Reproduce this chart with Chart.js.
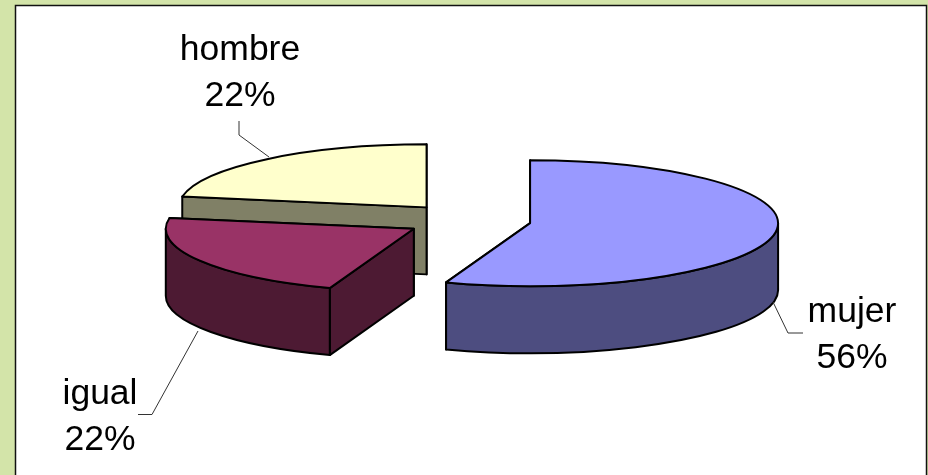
<!DOCTYPE html>
<html>
<head>
<meta charset="utf-8">
<style>html,body{margin:0;padding:0;background:#D3E4A9}canvas{display:block}</style>
<script src="https://cdn.jsdelivr.net/npm/chart.js@4/dist/chart.umd.min.js"></script>
</head>
<body>
<canvas id="c" width="928" height="475"></canvas>
<script>
const categories = ['mujer', 'igual', 'hombre'];
const percentages = [55.5, 22.25, 22.25];
const percentLabels = ['56%', '22%', '22%'];
const topColors = ['#9999FF', '#993366', '#FFFFCC'];
const wallColors = ['#4D4D80', '#4D1A33', '#808066'];
const explode = [61, 65, 67.5];

const RX = 248, RY = 63, DEPTH = 67;
const labelPlacement = [
  {x: 852, y: 322, leader: [[773, 302], [788, 333], [803, 333]]},
  {x: 100, y: 404, leader: [[198, 331], [152, 414.5], [138, 414.5]]},
  {x: 240, y: 60,  leader: [[239, 121], [239, 135], [269, 157]]}
];

const pie3d = {
  id: 'pie3d',
  beforeDraw(chart) {
    const {ctx, width, height} = chart;
    ctx.save();
    ctx.fillStyle = '#D3E4A9';
    ctx.fillRect(0, 0, width, height);
    ctx.fillStyle = '#FFFFFF';
    ctx.strokeStyle = '#111111';
    ctx.lineWidth = 1.5;
    ctx.fillRect(15.5, 5.5, 911, height + 10);
    ctx.strokeRect(15.5, 5.5, 911, height + 10);
    ctx.restore();
  },
  beforeDatasetDraw(chart, args) {
    const {ctx} = chart;
    const arcs = chart.getDatasetMeta(args.index).data.map((el, i) => {
      const mid = (el.startAngle + el.endAngle) / 2;
      const off = el.options.offset;
      return {
        i, a0: el.startAngle, a1: el.endAngle,
        cx: el.x + Math.cos(mid) * off,
        cy: el.y + Math.sin(mid) * off * RY / RX
      };
    });
    arcs.sort((p, q) => p.cy - q.cy);
    ctx.save();
    ctx.lineJoin = 'round';
    ctx.strokeStyle = '#000000';
    ctx.lineWidth = 2;
    for (const s of arcs) {
      const pt = a => [s.cx + RX * Math.cos(a), s.cy + RY * Math.sin(a)];
      const paint = (fill) => { ctx.fillStyle = fill; ctx.fill(); ctx.stroke(); };
      const edges = [s.a0, s.a1].map(pt).sort((p, q) => (p[1]) - (q[1]));
      for (const e of edges) {
        ctx.beginPath();
        ctx.moveTo(s.cx, s.cy);
        ctx.lineTo(e[0], e[1]);
        ctx.lineTo(e[0], e[1] + DEPTH);
        ctx.lineTo(s.cx, s.cy + DEPTH);
        ctx.closePath();
        paint(wallColors[s.i]);
      }
      const w0 = Math.max(s.a0, 0), w1 = Math.min(s.a1, Math.PI);
      if (w1 > w0) {
        ctx.beginPath();
        ctx.ellipse(s.cx, s.cy, RX, RY, 0, w0, w1);
        ctx.ellipse(s.cx, s.cy + DEPTH, RX, RY, 0, w1, w0, true);
        ctx.closePath();
        paint(wallColors[s.i]);
      }
      ctx.beginPath();
      ctx.moveTo(s.cx, s.cy);
      ctx.ellipse(s.cx, s.cy, RX, RY, 0, s.a0, s.a1);
      ctx.closePath();
      paint(topColors[s.i]);
    }
    ctx.restore();
    return false;
  },
  afterDatasetsDraw(chart) {
    const {ctx} = chart;
    ctx.save();
    ctx.textAlign = 'center';
    ctx.textBaseline = 'alphabetic';
    ctx.font = '35.5px "Liberation Sans", Arial, sans-serif';
    ctx.fillStyle = '#000000';
    categories.forEach((name, i) => {
      const p = labelPlacement[i];
      ctx.fillText(name, p.x, p.y);
      ctx.fillText(percentLabels[i], p.x, p.y + 46);
      ctx.beginPath();
      p.leader.forEach(([x, y], k) => k ? ctx.lineTo(x, y) : ctx.moveTo(x, y));
      ctx.strokeStyle = '#333333';
      ctx.lineWidth = 1;
      ctx.stroke();
    });
    ctx.restore();
  }
};

new Chart(document.getElementById('c'), {
  type: 'pie',
  data: {
    labels: categories,
    datasets: [{
      data: percentages,
      backgroundColor: topColors,
      borderColor: '#000000',
      offset: explode
    }]
  },
  options: {
    responsive: false,
    animation: false,
    layout: {padding: {left: 12, right: 0, top: 0, bottom: 34}},
    plugins: {legend: {display: false}, tooltip: {enabled: false}}
  },
  plugins: [pie3d]
});
</script>
</body>
</html>
